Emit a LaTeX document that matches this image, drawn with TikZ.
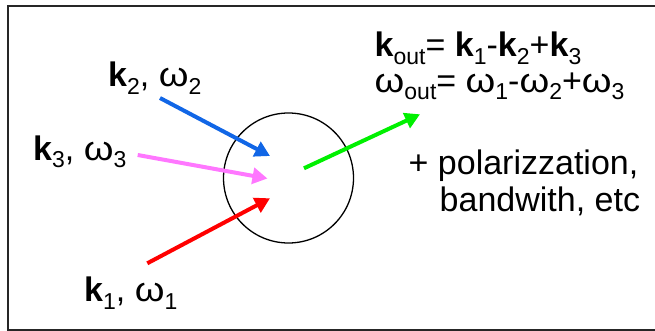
\documentclass[tikz,border=0pt]{standalone}
\usepackage{fontspec}
\usepackage{graphicx}
\setmainfont{Liberation Sans}
\usetikzlibrary{arrows.meta}
\newcommand\mysub[1]{\raisebox{-7.5pt}[0pt][0pt]{\fontsize{23}{23}\selectfont #1}}
\newcommand\myom{\scalebox{1.12}[1]{ω}}
\definecolor{kblue}{RGB}{17,102,230}
\definecolor{kpink}{RGB}{255,119,255}
\definecolor{kred}{RGB}{255,0,0}
\definecolor{kgreen}{RGB}{0,240,0}
\begin{document}
\begin{tikzpicture}[x=1pt,y=-1pt,
  lbl/.style={anchor=base west, inner sep=0pt, font=\fontsize{34}{36}\selectfont},
  beam/.style={line width=4pt, -{Triangle[length=15pt,width=16pt]}},
]
\useasboundingbox (0,0) rectangle (655,331);
\draw[line width=2pt, black!85] (656,6) -- (8,6) -- (8,330) -- (656,330);
\node[circle, draw, line width=1.3pt, minimum size=130pt, inner sep=0pt] (xtal) at (288.5,178) {};
\coordinate (b0) at (160,98);
\coordinate (b1) at (270,156);
\coordinate (p0) at (137.7,155);
\coordinate (p1) at (267.5,178.5);
\coordinate (r0) at (147.3,263.3);
\coordinate (r1) at (270,198.3);
\coordinate (g0) at (304,168.3);
\coordinate (g1) at (420,114.3);
\draw[beam, kblue] (b0) -- (b1);
\draw[beam, kpink] (p0) -- (p1);
\draw[beam, kred] (r0) -- (r1);
\draw[beam, kgreen] (g0) -- (g1);
\node[lbl] (k2) at (108,87) {\textbf{k}\mysub{2}, \myom\mysub{2}};
\node[lbl] (k3) at (33,160.5) {\textbf{k}\mysub{3}, \myom\mysub{3}};
\node[lbl] (k1) at (84,301.7) {\textbf{k}\mysub{1}, \myom\mysub{1}};
\node[lbl] (kout) at (374.5,56.7) {\textbf{k}\mysub{out}= \textbf{k}\mysub{1}-\textbf{k}\mysub{2}+\textbf{k}\mysub{3}};
\node[lbl] (wout) at (374.5,92.5) {\myom\mysub{out}= \myom\mysub{1}-\myom\mysub{2}+\myom\mysub{3}};
\node[lbl] (pol) at (408.5,175) {+ polarizzation,};
\node[lbl] (bw) at (439.5,211.7) {bandwith, etc};
\end{tikzpicture}
\end{document}
